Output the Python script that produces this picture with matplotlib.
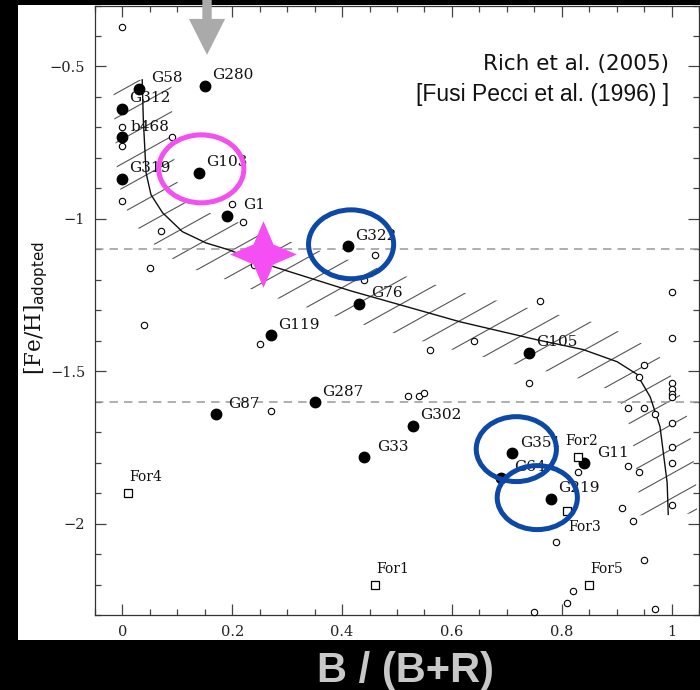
import numpy as np
import matplotlib
matplotlib.use("Agg")
import matplotlib.pyplot as plt
from matplotlib.patches import Ellipse, Polygon, Rectangle, FancyArrow
from matplotlib.collections import LineCollection
from matplotlib.path import Path

# labelled globular clusters (filled circles)
gc_names = ["G58", "G312", "b468", "G319", "G280", "G103", "G1", "G322", "G76",
            "G119", "G287", "G87", "G302", "G33", "G105", "G351", "G64", "G11", "G219"]
gc_x = [0.03, 0.0, 0.0, 0.0, 0.15, 0.14, 0.19, 0.41, 0.43,
        0.27, 0.35, 0.17, 0.53, 0.44, 0.74, 0.71, 0.69, 0.84, 0.78]
gc_y = [-0.575, -0.64, -0.73, -0.87, -0.565, -0.85, -0.99, -1.09, -1.28,
        -1.38, -1.60, -1.64, -1.68, -1.78, -1.44, -1.77, -1.85, -1.80, -1.92]

# Galactic clusters (small open circles)
mw_x = [0.0, 0.0, 0.0, 0.09, 0.0, 0.20, 0.22, 0.07, 0.24, 0.46, 0.44, 0.05, 0.04,
        0.25, 0.56, 0.64, 0.27, 0.52, 0.54, 0.55, 0.76, 0.74, 1.0, 1.0, 0.95, 0.94,
        1.0, 1.0, 1.0, 1.0, 0.92, 0.95, 0.97, 1.0, 1.0, 1.0, 0.92, 0.94, 0.83, 0.91,
        1.0, 0.93, 0.79, 0.95, 0.82, 0.81, 0.97, 0.75]
mw_y = [-0.37, -0.70, -0.76, -0.73, -0.94, -0.95, -1.01, -1.04, -1.15, -1.12, -1.20,
        -1.16, -1.35, -1.41, -1.43, -1.40, -1.63, -1.58, -1.58, -1.57, -1.27, -1.54,
        -1.24, -1.39, -1.48, -1.52, -1.54, -1.56, -1.575, -1.585, -1.62, -1.62, -1.64,
        -1.67, -1.75, -1.80, -1.81, -1.83, -1.83, -1.95, -1.94, -1.99, -2.06, -2.12,
        -2.22, -2.26, -2.28, -2.29]

# Fornax clusters (open squares)
for_names = ["For1", "For2", "For3", "For4", "For5"]
for_x = [0.46, 0.83, 0.81, 0.01, 0.85]
for_y = [-2.20, -1.78, -1.96, -1.90, -2.20]

# HB model curve
curve_x = [0.036, 0.038, 0.043, 0.052, 0.073, 0.109, 0.152, 0.194, 0.27, 0.415,
           0.615, 0.755, 0.839, 0.901, 0.937, 0.961, 0.979, 0.992, 0.994]
curve_y = [-0.544, -0.675, -0.849, -0.921, -0.980, -1.042, -1.079, -1.102, -1.154,
           -1.236, -1.338, -1.397, -1.429, -1.469, -1.51, -1.584, -1.682, -1.866, -1.97]

ref_lines = [-1.1, -1.6]
x_ticks = [0, 0.2, 0.4, 0.6, 0.8, 1.0]
x_tick_labels = ["0", "0.2", "0.4", "0.6", "0.8", "1"]
y_ticks = [-2.0, -1.5, -1.0, -0.5]
y_tick_labels = ["\u22122", "\u22121.5", "\u22121", "\u22120.5"]

# highlight marks: (center x, center y, width, height)
magenta_rings = [(0.1436, -0.836, 0.155, 0.223)]
blue_rings = [(0.4164, -1.0836, 0.155, 0.226),
              (0.7173, -1.7557, 0.146, 0.213),
              (0.7555, -1.9148, 0.146, 0.210)]
star_x, star_y = 0.2555, -1.115
arrow_x = 0.154

# label offsets in pixels
gc_offsets = [(12, 11), (7, 11), (8, 10), (7, 11), (7, 11), (7, 11), (16, 11), (8, 10),
              (13, 11), (7, 10), (7, 10), (12, 10), (7, 11), (13, 10), (7, 11), (8, 10),
              (13, 11), (13, 10), (7, 11)]
for_offsets = [(1, 16), (-13, 16), (1, -16), (1, 16), (1, 16)]

W, H = 700, 690
fig = plt.figure(figsize=(W / 100, H / 100), dpi=100, facecolor="black")
fig.patches.append(Rectangle((18 / W, 50 / H), 682 / W, 635 / H, transform=fig.transFigure,
                             facecolor="white", edgecolor="none", zorder=-5))

ax = fig.add_axes([95 / W, 75 / H, 604 / W, 609.5 / H])
ax.set_zorder(2)
ax.set_facecolor("white")
ax.set_xlim(-0.05, 1.05)
ax.set_ylim(-2.3, -0.3)

serif = "DejaVu Serif"
ax.set_xticks(x_ticks)
ax.set_xticklabels(x_tick_labels, fontfamily=serif, fontsize=10.5, color="#222222")
ax.set_yticks(y_ticks)
ax.set_yticklabels(y_tick_labels, fontfamily=serif, fontsize=10.5, color="#222222")
ax.set_xticks(np.arange(-0.05, 1.051, 0.05), minor=True)
ax.set_yticks(np.arange(-2.3, -0.29, 0.1), minor=True)
ax.tick_params(which="both", direction="in", top=True, right=True, color="#444444", width=0.9)
ax.tick_params(which="major", length=8, pad=7)
ax.tick_params(which="minor", length=4)
for sp in ax.spines.values():
    sp.set_color("#333333")
    sp.set_linewidth(0.9)

# reference lines
for yv in ref_lines:
    ax.axhline(yv, color="#999999", lw=1.1, dashes=(5.5, 4), zorder=2)

# hatched band around the model curve
trans = ax.transData
P = trans.transform(np.column_stack([curve_x, curve_y]))
t = np.gradient(P, axis=0)
t /= np.linalg.norm(t, axis=1)[:, None]
nrm = np.column_stack([-t[:, 1], t[:, 0]])
half_w = 29
band = np.vstack([P + half_w * nrm, (P - half_w * nrm)[::-1]])
clip = Polygon(trans.inverted().transform(band), closed=True, transform=ax.transData,
               facecolor="none", edgecolor="none")
ax.add_patch(clip)

theta = np.deg2rad(29)
d = np.array([np.cos(theta), np.sin(theta)])
m = np.array([-np.sin(theta), np.cos(theta)])
anchor = np.array([513.0, H - 365.0])
spacing = 21.5
segs = []
for k in range(-45, 46):
    c = anchor + k * spacing * m
    seg = np.array([c - 1200 * d, c + 1200 * d])
    segs.append(trans.inverted().transform(seg))
hatch = LineCollection(segs, colors="#555555", linewidths=0.8, zorder=1)
ax.add_collection(hatch)
hatch.set_clip_path(clip)

ax.plot(curve_x, curve_y, color="#111111", lw=1.0, zorder=3)

# data points
ax.plot(mw_x, mw_y, "o", ms=4.6, mfc="white", mec="black", mew=0.8, zorder=4, clip_on=False)
ax.plot(gc_x, gc_y, "o", ms=7.5, mfc="black", mec="black", zorder=5)
ax.plot(for_x, for_y, "s", ms=6, mfc="white", mec="black", mew=0.9, zorder=5)

for name, x, y, off in zip(gc_names, gc_x, gc_y, gc_offsets):
    ax.annotate(name, (x, y), xytext=off, textcoords="offset pixels", ha="left",
                va="center", fontfamily=serif, fontsize=11, color="#111111", zorder=6)
for name, x, y, off in zip(for_names, for_x, for_y, for_offsets):
    ax.annotate(name, (x, y), xytext=off, textcoords="offset pixels", ha="left",
                va="center", fontfamily=serif, fontsize=10, color="#111111", zorder=6)

# highlights
for cx, cy, w, h in magenta_rings:
    ax.add_patch(Ellipse((cx, cy), w, h, fill=False, ec="#f250ef", lw=3.6, zorder=8))
for cx, cy, w, h in blue_rings:
    ax.add_patch(Ellipse((cx, cy), w, h, fill=False, ec="#0c48a8", lw=3.6, zorder=8))

k_in = 0.3
star = Path([(0, 1), (k_in, k_in), (1, 0), (k_in, -k_in), (0, -1), (-k_in, -k_in),
             (-1, 0), (-k_in, k_in), (0, 1)], closed=True)
ax.plot([star_x], [star_y], marker=star, ms=48, mfc="#f54ef2", mec="none", zorder=9)

ax.add_patch(FancyArrow(arrow_x, -0.27, 0, -0.192, width=0.017, head_width=0.066,
                        head_length=0.118, length_includes_head=True, color="#aaaaaa",
                        ec="none", clip_on=False, zorder=10))

# annotations
fig.text(669 / W, 1 - 70 / H, "Rich et al. (2005)", ha="right", va="baseline",
         fontfamily="DejaVu Sans", fontsize=15.5, color="#111111", zorder=5)
fig.text(669 / W, 1 - 101 / H, "[Fusi Pecci et al. (1996) ]", ha="right", va="baseline",
         fontfamily="Liberation Sans", fontsize=16.5, color="#111111", zorder=5)

plt.rcParams["mathtext.fontset"] = "dejavuserif"
fig.text(36 / W, 1 - 308 / H, r"$[\mathrm{Fe/H}]_{\mathsf{adopted}}$", rotation=90,
         ha="center", va="center", fontsize=15.5, color="#111111")

fig.text(405 / W, 8 / H, "B / (B+R)", ha="center", va="baseline",
         fontfamily="Liberation Sans", fontweight="bold", fontsize=30, color="#c8c8c8")

fig.savefig("out.png", dpi=100, facecolor="black")
